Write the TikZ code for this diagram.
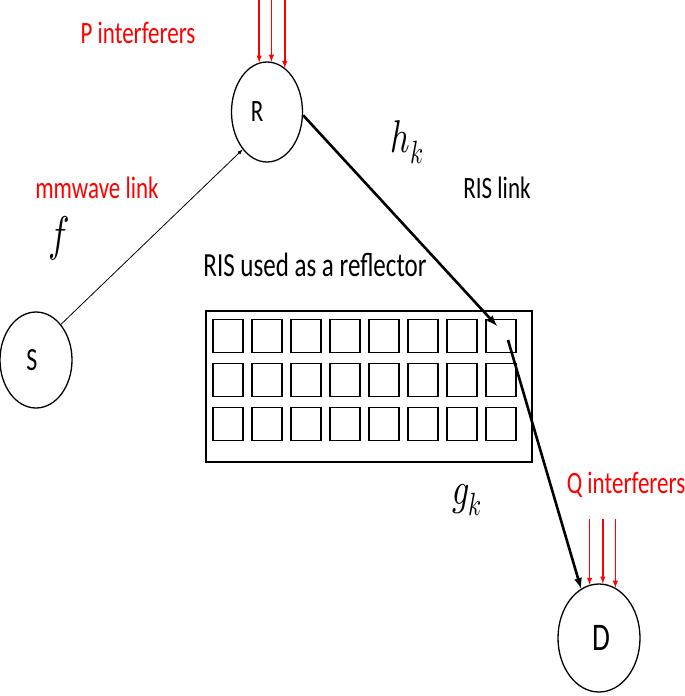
\documentclass[tikz,border=0pt]{standalone}
\usepackage{graphicx}
\usepackage{fontspec}
\usepackage{unicode-math}
\setmainfont{Carlito}
\setmathfont{Latin Modern Math}
\usetikzlibrary{shapes.geometric}

\newcommand{\tall}[1]{\scalebox{1}[1.35]{#1}}

\tikzset{
  station/.style={draw, ellipse, line width=1.3pt, inner sep=0pt},
  elem/.style={draw, line width=1.5pt, minimum width=30pt, minimum height=33pt, inner sep=0pt},
  intf/.style={red, line width=1.4pt, -latex},
  link/.style={line width=2.6pt, -latex},
  redtxt/.style={red, font=\fontsize{23}{26}\selectfont, inner sep=0pt},
  blacktxt/.style={font=\fontsize{23}{26}\selectfont, inner sep=0pt},
  mathtxt/.style={inner sep=0pt, font=\fontsize{#1}{#1}\selectfont},
}

\begin{document}
\begin{tikzpicture}[x=1pt, y=-1pt]

   \useasboundingbox (0,0) rectangle (685,696);
   \coordinate (top) at (0,0);
   \coordinate (qtop) at (0,519);

   % stations
   \node[station, minimum width=72pt, minimum height=96pt, font=\fontsize{24}{27}\selectfont] (src) at (36,360) {\tall{S}\kern8pt};
   \node[station, minimum width=71pt, minimum height=100pt, font=\fontsize{23}{26}\selectfont] (relay) at (267,112) {\tall{R}\kern20pt};
   \node[station, minimum width=82pt, minimum height=108pt, font=\fontsize{29}{32}\selectfont] (dest) at (599,638) {\kern4pt\tall{D}};

   % RIS panel
   \node[draw, line width=1.5pt, minimum width=326pt, minimum height=151pt] (ris) at (369,386.5) {};
   \foreach \r in {0,1,2}
      \foreach \c in {0,...,7}
         \node[elem] (e\r\c) at (228+39*\c, 336+44*\r) {};
   \coordinate (risin) at (497,326);
   \coordinate (risout) at (508,340);

   % links
   \draw[line width=0.8pt, -latex] (src.55) -- (relay.237);
   \draw[link] (relay.-5) -- (risin);
   \draw[link] (risout) -- (dest.110);

   % interferers
   \foreach \a in {99,85,68}
      \draw[intf] (relay.\a |- top) -- (relay.\a);
   \foreach \a in {100,86,72}
      \draw[intf] (dest.\a |- qtop) -- (dest.\a);

   % labels
   \node[redtxt] (ptxt) at (138,33) {\tall{P interferers}};
   \node[redtxt] (qtxt) at (626,485) {\tall{Q interferers}};
   \node[redtxt] (mmtxt) at (97,188) {\tall{mmwave link}};
   \node[blacktxt] (ristxt) at (497,188) {\tall{RIS link}};
   \node[blacktxt, font=\fontsize{25}{28}\selectfont] (reftxt) at (315,265) {\tall{RIS used as a reflector}};
   \node[mathtxt=36] (ftxt) at (59,238) {\tall{$f$}};
   \node[mathtxt=34] (htxt) at (407,142) {\tall{$h_k$}};
   \node[mathtxt=34] (gtxt) at (467,500) {\tall{$g_k$}};

\end{tikzpicture}
\end{document}
